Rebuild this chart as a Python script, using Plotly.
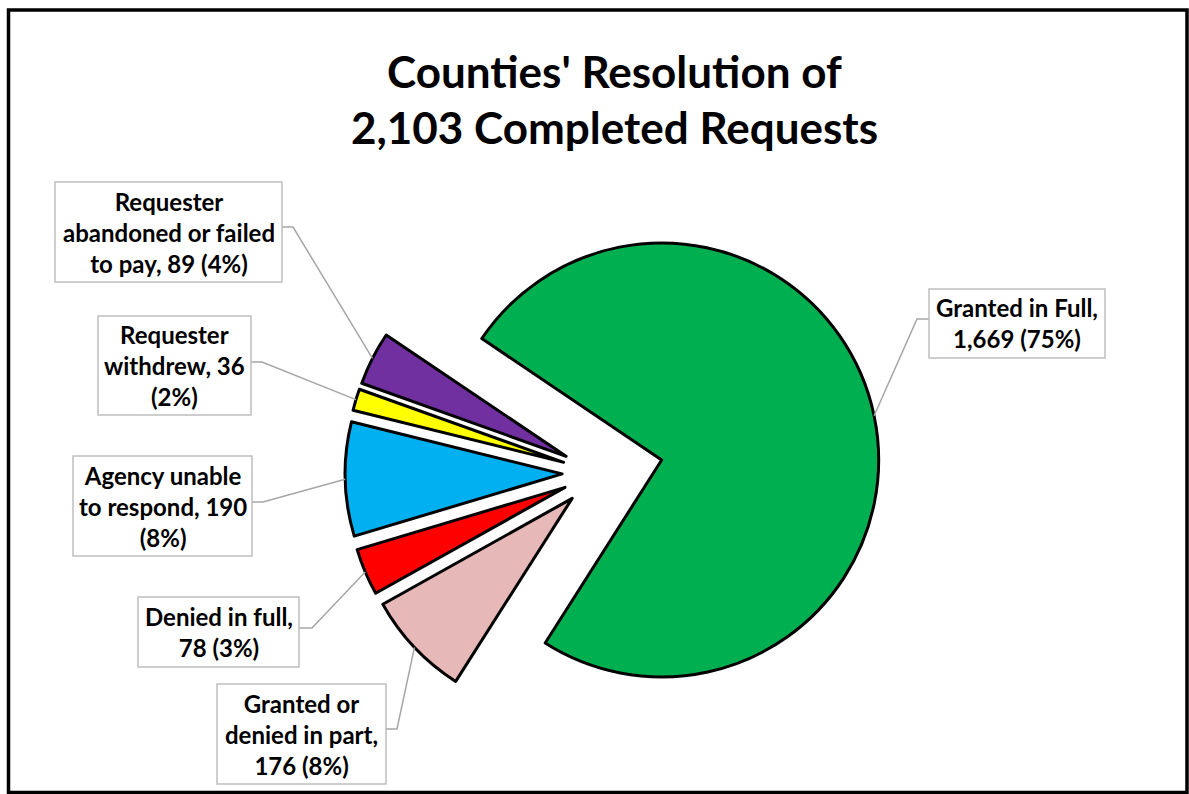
import math
import plotly.graph_objects as go

# ---- data -------------------------------------------------------------
categories = [
    "Granted in Full",
    "Granted or denied in part",
    "Denied in full",
    "Agency unable to respond",
    "Requester withdrew",
    "Requester abandoned or failed to pay",
]
requests = [1669, 176, 78, 190, 36, 89]
slice_colors = ["#00B050", "#E6B9B8", "#FF0000", "#00B0F0", "#FFFF00", "#7030A0"]

# how each callout label is broken into lines
label_names = [
    "Granted in Full",
    "Granted or<br>denied in part",
    "Denied in full",
    "Agency unable<br>to respond",
    "Requester<br>withdrew",
    "Requester<br>abandoned or failed<br>to pay",
]
sep_after_name = ["<br>", "<br>", "<br>", " ", " ", " "]
sep_before_pct = [" ", " ", " ", "<br>", "<br>", " "]

title_lines = ["Counties' Resolution of", "2,103 Completed Requests"]

# ---- layout constants (pixels) ---------------------------------------
W, H = 1189, 794
FONT = "Lato"
LABEL_SIZE = 24
TITLE_SIZE = 44
ROTATION = 304
PULL_MAIN, PULL_OTHER = 0.295, 0.17
pulls = [PULL_MAIN] + [PULL_OTHER] * (len(requests) - 1)

# pie domain, in pixels
PIE_CX, PIE_CY, PIE_BOX_W, PIE_BOX_H = 599, 473, 700, 562

# callout boxes: x0, y0, x1, y1
boxes = [
    (929, 289, 1105, 358),
    (217, 684, 386, 784),
    (138, 597, 299, 667),
    (73, 456, 252, 556),
    (98, 316, 251, 415),
    (55, 182, 282, 282),
]
# leader anchor on the box edge (x, y) and elbow x
anchors = [
    (929, 319, 917),
    (386, 729, 397),
    (299, 628, 312),
    (252, 502, 263),
    (251, 362, 262),
    (282, 227, 293),
]


def px(x):
    return x / W


def py(y):
    return 1 - y / H


dom_x = [px(PIE_CX - PIE_BOX_W / 2), px(PIE_CX + PIE_BOX_W / 2)]
dom_y = [py(PIE_CY + PIE_BOX_H / 2), py(PIE_CY - PIE_BOX_H / 2)]

total = sum(requests)

# same geometry rules plotly uses for a pie with pulled slices
r = min(PIE_BOX_W, PIE_BOX_H) / 2 / (1 + max(pulls))
angle = math.radians(ROTATION)
tips = []
for v, pull in zip(requests, pulls):
    mid = angle + 2 * math.pi * v / total / 2
    ux, uy = math.sin(mid), -math.cos(mid)
    ox, oy = PIE_CX + pull * r * ux, PIE_CY + pull * r * uy
    tips.append((ox + r * ux, oy + r * uy))
    angle += 2 * math.pi * v / total

fig = go.Figure(
    go.Pie(
        labels=categories,
        values=requests,
        sort=False,
        direction="clockwise",
        rotation=ROTATION,
        pull=pulls,
        marker=dict(colors=slice_colors, line=dict(color="black", width=3)),
        textinfo="none",
        hoverinfo="label+value+percent",
        domain=dict(x=dom_x, y=dom_y),
        showlegend=False,
    )
)

shapes = [
    # outer frame
    dict(type="rect", xref="paper", yref="paper",
         x0=px(8.5), x1=px(1187), y0=py(792.5), y1=py(10),
         line=dict(color="black", width=3.5), fillcolor="rgba(0,0,0,0)"),
]
annotations = []

for i, v in enumerate(requests):
    pct = round(v / total * 100)
    text = f"{label_names[i]},{sep_after_name[i]}{v:,}{sep_before_pct[i]}({pct}%)"
    x0, y0, x1, y1 = boxes[i]
    ax, ay, ex = anchors[i]
    tx, ty = tips[i]
    shapes.append(dict(
        type="path", xref="paper", yref="paper",
        path=f"M {px(ax)},{py(ay)} L {px(ex)},{py(ay)} L {px(tx)},{py(ty)}",
        line=dict(color="#A6A6A6", width=1.5),
    ))
    shapes.append(dict(
        type="rect", xref="paper", yref="paper",
        x0=px(x0), x1=px(x1), y0=py(y1), y1=py(y0),
        line=dict(color="#BFBFBF", width=1.5), fillcolor="white",
    ))
    annotations.append(dict(
        x=px((x0 + x1) / 2), y=py((y0 + y1) / 2), xref="paper", yref="paper",
        xanchor="center", yanchor="middle", text=f"<b>{text}</b>",
        showarrow=False, align="center",
        font=dict(family=FONT, size=LABEL_SIZE, color="black"),
    ))

for line, cy in zip(title_lines, [71.5, 127]):
    annotations.append(dict(
        x=px(614), y=py(cy), xref="paper", yref="paper",
        xanchor="center", yanchor="middle", text=f"<b>{line}</b>",
        showarrow=False, font=dict(family=FONT, size=TITLE_SIZE, color="black"),
    ))

fig.update_layout(
    width=W, height=H,
    margin=dict(l=0, r=0, t=0, b=0),
    paper_bgcolor="white", plot_bgcolor="white",
    shapes=shapes, annotations=annotations,
)

fig.write_html("out.html")
